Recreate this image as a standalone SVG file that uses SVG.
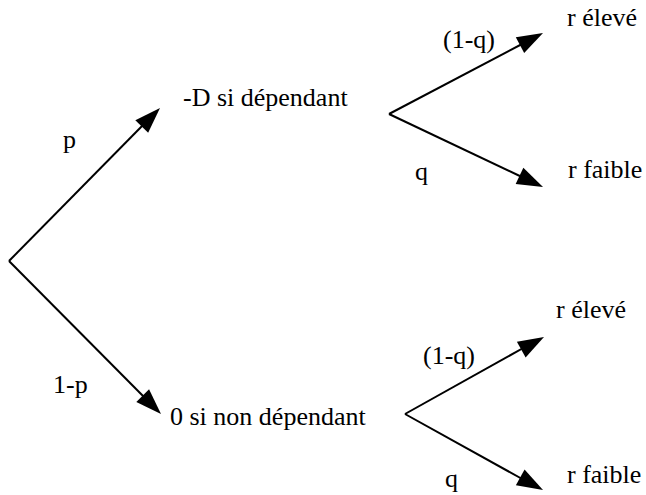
<svg xmlns="http://www.w3.org/2000/svg" width="646" height="495" viewBox="0 0 646 495">
<rect width="646" height="495" fill="#fff"/>
<g id="connectors">
<g stroke="#000" stroke-width="2" fill="none">
<line x1="9" y1="261" x2="145" y2="123"/>
<line x1="9" y1="261" x2="146" y2="399"/>
<line x1="389" y1="114" x2="524" y2="43"/>
<line x1="389" y1="114" x2="524" y2="178"/>
<line x1="405" y1="414" x2="525" y2="347"/>
<line x1="405" y1="414" x2="524" y2="480"/>
</g>
<g fill="#000">
<polygon points="160,108 148.15,132.82 135.33,120.18"/>
<polygon points="161,414 136.30,401.90 149.06,389.22"/>
<polygon points="543,33 524.18,53.07 515.80,37.13"/>
<polygon points="543,187 515.66,183.99 523.36,167.73"/>
<polygon points="544,337 525.62,357.47 516.90,341.73"/>
<polygon points="543,490 515.88,485.34 524.56,469.58"/>
</g>
</g>
<text x="63" y="148" font-family="Liberation Serif" font-size="26">p</text>
<text x="53" y="393" font-family="Liberation Serif" font-size="26">1-p</text>
<text x="443" y="48" font-family="Liberation Serif" font-size="26">(1-q)</text>
<text x="415" y="180" font-family="Liberation Serif" font-size="26">q</text>
<text x="423" y="364" font-family="Liberation Serif" font-size="26">(1-q)</text>
<text x="445" y="487" font-family="Liberation Serif" font-size="26">q</text>
<g id="node-dep"><text x="183" y="106" font-family="Liberation Serif" font-size="26">-D si dépendant</text></g>
<g id="node-nondep"><text x="170" y="425" font-family="Liberation Serif" font-size="26">0 si non dépendant</text></g>
<g id="node-r1"><text x="567" y="26" font-family="Liberation Serif" font-size="26">r élevé</text></g>
<g id="node-r2"><text x="568" y="178" font-family="Liberation Serif" font-size="26">r faible</text></g>
<g id="node-r3"><text x="556" y="318" font-family="Liberation Serif" font-size="26">r élevé</text></g>
<g id="node-r4"><text x="567" y="483" font-family="Liberation Serif" font-size="26">r faible</text></g>
</svg>
